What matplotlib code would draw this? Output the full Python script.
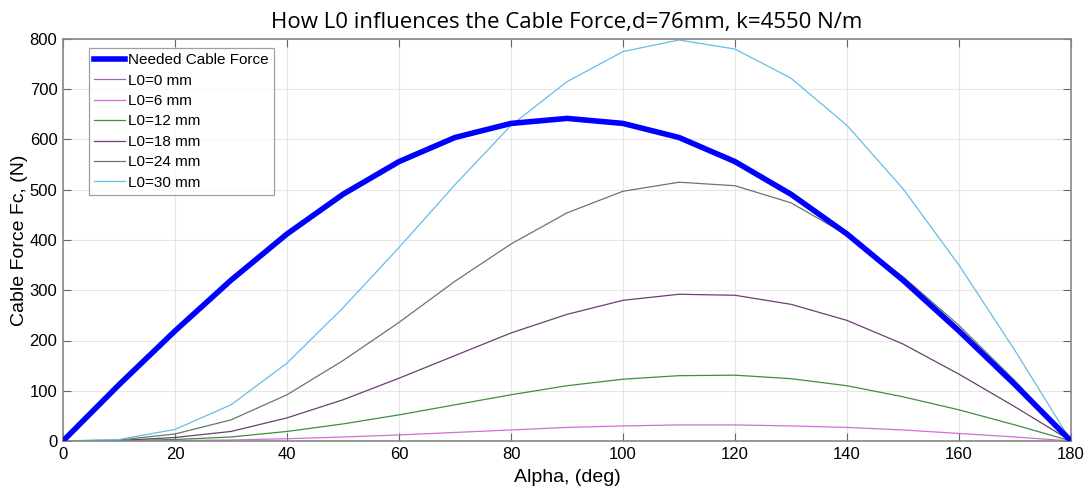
import matplotlib
matplotlib.use("Agg")
import matplotlib.pyplot as plt

alpha = [0, 10, 20, 30, 40, 50, 60, 70, 80, 90, 100, 110, 120, 130, 140, 150, 160, 170, 180]
needed = [0, 112, 219, 320, 412, 491, 556, 604, 632, 642, 632, 604, 556, 491, 412, 320, 219, 112, 0]
l0_0 = [0] * 19
l0_6 = [0, 0.1, 1, 2, 4.5, 8, 12, 17, 22, 27, 30, 32, 32, 30, 27, 22, 15, 8, 0]
l0_12 = [0, 0.5, 3, 8, 19, 34, 52, 72, 92, 110, 123, 130, 131, 124, 110, 88, 62, 32, 0]
l0_18 = [0, 1, 7, 19, 46, 82, 125, 170, 215, 252, 280, 292, 290, 272, 240, 193, 133, 68, 0]
l0_24 = [0, 2, 14, 42, 92, 160, 236, 318, 392, 454, 497, 515, 508, 474, 410, 327, 230, 120, 0]
l0_30 = [0, 3, 23, 72, 155, 265, 385, 510, 628, 715, 775, 798, 780, 722, 628, 502, 350, 180, 0]

series = [
    ("L0=0 mm", l0_0, "#9a6aa6"),
    ("L0=6 mm", l0_6, "#d070d8"),
    ("L0=12 mm", l0_12, "#3f8f3f"),
    ("L0=18 mm", l0_18, "#6a4070"),
    ("L0=24 mm", l0_24, "#687868"),
    ("L0=30 mm", l0_30, "#66bde6"),
]

plt.rcParams['font.family'] = ['Liberation Sans', 'DejaVu Sans']
fig = plt.figure(figsize=(10.88, 4.91), dpi=100)
ax = fig.add_axes([63/1088, 1 - 441/491, (1071-63)/1088, (441-39)/491])

ax.plot(alpha, needed, color="#0000ff", lw=4, label="Needed Cable Force", zorder=5)
for name, vals, col in series:
    ax.plot(alpha, vals, color=col, lw=0.9, label=name)

ax.set_xlim(0, 180)
ax.set_ylim(0, 800)
ax.set_xticks(range(0, 181, 20))
ax.set_yticks(range(0, 801, 100))
ax.grid(True, color="#e6e6e6", lw=0.8)
ax.set_axisbelow(True)
ax.tick_params(direction="in", top=True, right=True, labelsize=12, length=6, color="#666666", pad=4)
for s in ax.spines.values():
    s.set_color("#888888")
    s.set_linewidth(1.2)

ax.set_xlabel("Alpha, (deg)", fontsize=14, labelpad=5)
ax.set_ylabel("Cable Force Fc, (N)", fontsize=14, labelpad=1)
ax.set_title("How L0 influences the Cable Force,d=76mm, k=4550 N/m", fontsize=16,
             family=["Open Sans", "DejaVu Sans"], pad=8)

leg = ax.legend(loc="upper left", bbox_to_anchor=(0.0255, 0.978), fontsize=11, frameon=True,
                fancybox=False, handlelength=2.0, handletextpad=0.25, labelspacing=0.42,
                borderpad=0.35, borderaxespad=0.0)
leg.get_frame().set_edgecolor("#888888")
leg.get_frame().set_linewidth(0.9)

fig.savefig("out.png", dpi=100)
